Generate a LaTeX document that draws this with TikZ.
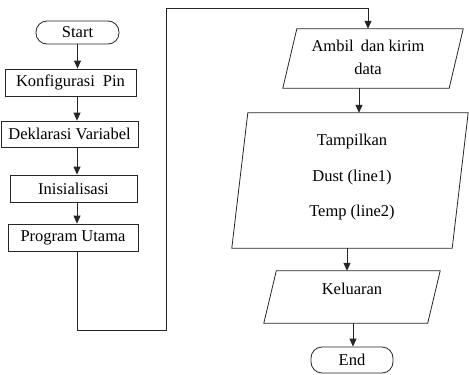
\documentclass[tikz,border=0pt]{standalone}
\usepackage{fontspec}
\setmainfont{Liberation Serif}
\usetikzlibrary{arrows.meta,calc}
\begin{document}
\begin{tikzpicture}[x=1pt,y=-1pt,
  txt/.style={font=\fontsize{16.5}{23}\selectfont, inner sep=0pt, align=center},
  proc/.style={txt, draw=black!85, line width=0.8pt, minimum height=27pt},
  term/.style={txt, draw=black!85, line width=0.8pt, rounded corners=11pt},
  frame/.style={inner sep=0pt},
  ln/.style={line width=0.8pt, draw=black!85},
  arr/.style={ln, -{Triangle[length=8pt,width=7pt]}},
]
\useasboundingbox (0,0) rectangle (469,375);

% left column
\node[term, minimum width=83pt, minimum height=23pt] (start) at (77.5,32.5) {Start};
\node[proc, minimum width=131pt] (konf) at (70.5,82.5) {Konfigurasi\hspace{8pt}Pin};
\node[proc, minimum width=137pt, minimum height=26pt] (dekl) at (69.5,134) {Deklarasi Variabel};
\node[proc, minimum width=127pt] (inis) at (73.5,188.5) {Inisialisasi};
\node[proc, minimum width=130pt] (prog) at (73,237.5) {Program Utama};

% right column
\node[frame, minimum width=180pt, minimum height=59pt] (amb) at (373,58.5) {};
\draw[ln] ([xshift=14pt]amb.north west) -- (amb.north east) -- ([xshift=-14pt]amb.south east) -- (amb.south west) -- cycle;
\node[txt] (ambt) at (368,57.5) {Ambil\hspace{3pt} dan kirim\\data};

\node[frame, minimum width=236pt, minimum height=135pt] (tamp) at (350,180.5) {};
\draw[ln] ([xshift=16pt]tamp.north west) -- (tamp.north east) -- ([xshift=-16pt]tamp.south east) -- (tamp.south west) -- cycle;
\node[txt, font=\fontsize{16.5}{35.5}\selectfont] (tampt) at (352,177.5) {Tampilkan\\Dust (line1)\\Temp (line2)};

\node[frame, minimum width=176pt, minimum height=52pt] (kel) at (352,297) {};
\draw[ln] ([xshift=12.5pt]kel.north west) -- (kel.north east) -- ([xshift=-12.5pt]kel.south east) -- (kel.south west) -- cycle;
\node[txt] (kelt) at (352,289) {Keluaran};

\node[term, minimum width=82pt, minimum height=26pt] (end) at (352,360) {End};

% connectors
\coordinate (ax) at (77,0);
\coordinate (c1) at (166,330);
\coordinate (c2) at (166,8);
\coordinate (tx) at (368,0);
\coordinate (bx) at (359,0);
\coordinate (cx) at (347,0);
\coordinate (ex) at (353,0);

\draw[arr] (start.south) -- (start.south |- konf.north);
\draw[arr] (ax |- konf.south) -- (ax |- dekl.north);
\draw[arr] (ax |- dekl.south) -- (ax |- inis.north);
\draw[arr] (ax |- inis.south) -- (ax |- prog.north);
\draw[arr] (ax |- prog.south) |- (c1) -- (c2) -| (tx |- amb.north);
\draw[arr] (bx |- amb.south) -- (bx |- tamp.north);
\draw[arr] (cx |- tamp.south) -- (cx |- kel.north);
\draw[arr] (ex |- kel.south) -- (ex |- end.north);
\end{tikzpicture}
\end{document}
